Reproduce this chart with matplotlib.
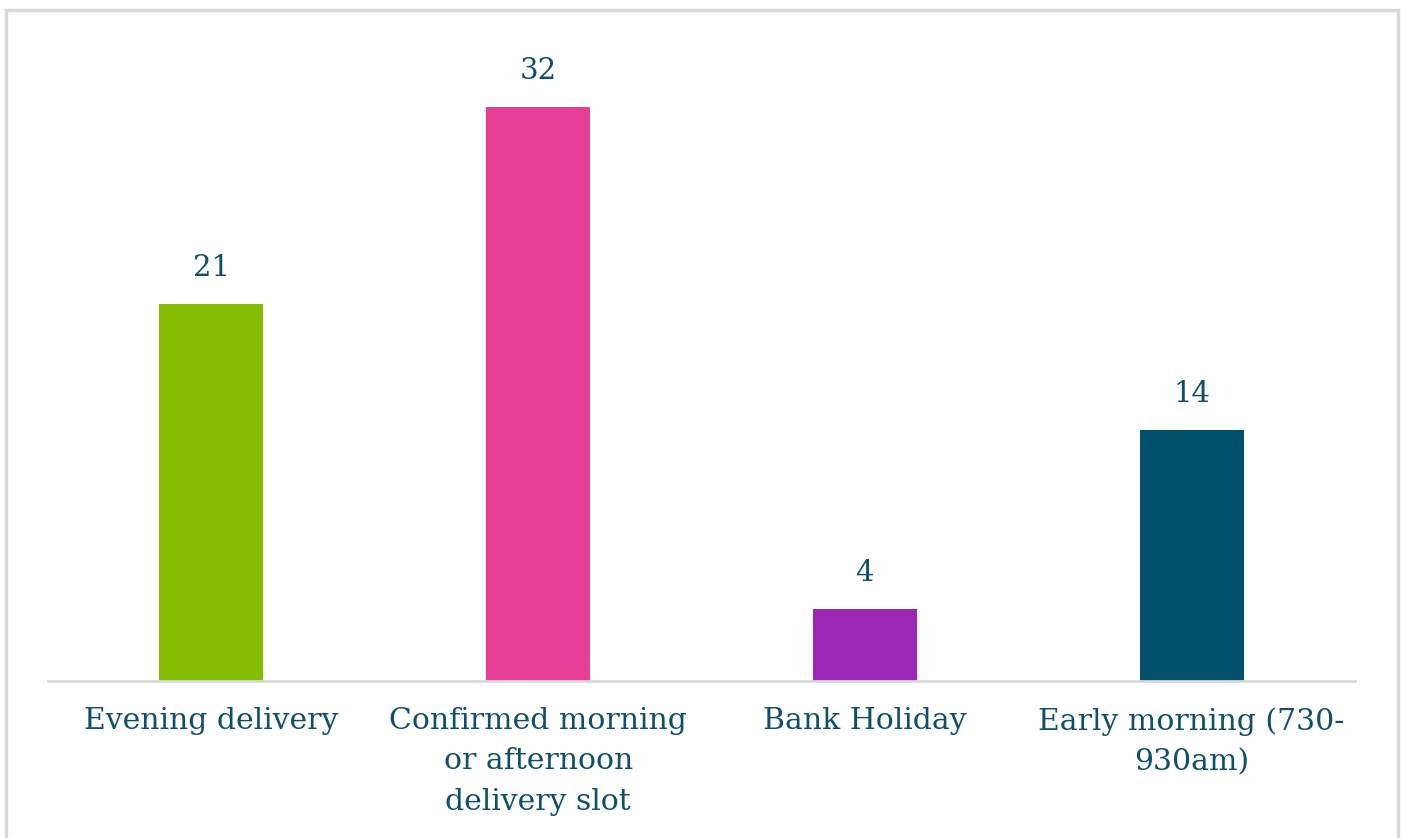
import matplotlib.pyplot as plt
from matplotlib.patches import Rectangle

categories = ["Evening delivery", "Confirmed morning\nor afternoon\ndelivery slot",
              "Bank Holiday", "Early morning (730-\n930am)"]
values = [21, 32, 4, 14]
colors = ["#84bd00", "#e63e96", "#9b26b6", "#004f6b"]
text_color = "#0e4f6a"

plt.rcParams['font.family'] = ['DejaVu Serif']

fig = plt.figure(figsize=(14.05, 8.38), dpi=100)
ax = fig.add_axes([48 / 1405, 1 - 681 / 838, 1307 / 1405, (681 - 35.25) / 838])

x = range(len(categories))
bars = ax.bar(x, values, width=0.318, color=colors, zorder=2)
for b, v in zip(bars, values):
    ax.annotate(str(v), (b.get_x() + b.get_width() / 2, v), xytext=(0, 16),
                textcoords="offset points", ha="center", va="bottom",
                fontsize=21, color=text_color)

ax.set_xlim(-0.5, 3.5)
ax.set_ylim(0, 36)
ax.set_xticks(list(x))
ax.set_xticklabels(categories, fontsize=21.5, color=text_color, linespacing=1.55)
ax.tick_params(axis="x", length=0, pad=19)
ax.set_yticks([])
for side in ["top", "right", "left"]:
    ax.spines[side].set_visible(False)
ax.spines["bottom"].set_color("#d9d9d9")
ax.spines["bottom"].set_linewidth(2)

# light grey frame around the chart area
fig.patches.append(Rectangle((6.5 / 1405, -0.05), (1398 - 6.5) / 1405, 1.05 - 10.5 / 838,
                             transform=fig.transFigure, fill=False,
                             edgecolor="#d9d9d9", linewidth=2.5))

fig.savefig("out.png", dpi=100)
